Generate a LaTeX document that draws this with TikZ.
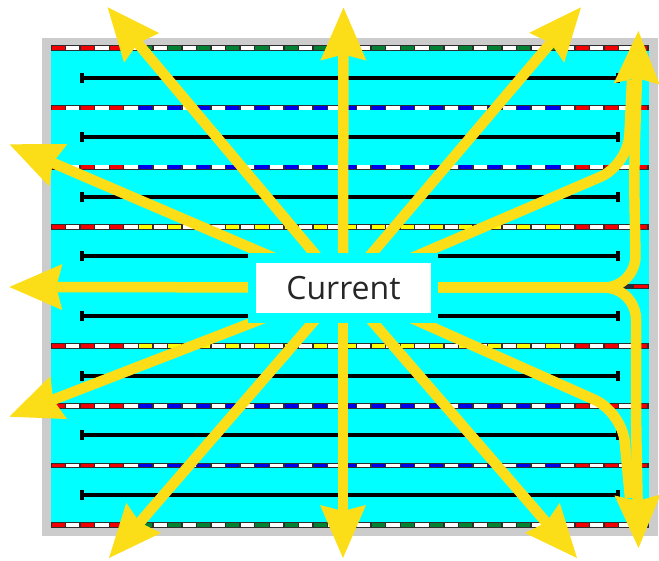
\documentclass[tikz,border=0pt]{standalone}
\usepackage{fontspec}
\setmainfont{Open Sans}
\usetikzlibrary{arrows.meta}
\definecolor{poolgray}{RGB}{204,204,204}
\definecolor{water}{RGB}{0,255,255}
\definecolor{flow}{RGB}{252,222,24}
\definecolor{ropered}{RGB}{240,0,0}
\definecolor{ropeblue}{RGB}{0,0,235}
\definecolor{ropegreen}{RGB}{0,130,50}
\definecolor{ropeyellow}{RGB}{255,255,0}
\definecolor{ropeedge}{RGB}{45,45,45}
\definecolor{txt}{RGB}{38,38,38}
\begin{document}
\begin{tikzpicture}[x=1pt,y=-1pt,
  flowline/.style={draw=flow,line width=10.5pt,line cap=butt,line join=round},
  flowhead/.style={-{Stealth[length=53pt,width=46pt,inset=6pt,line width=0pt,fill=flow]}},
  lanemark/.style={line width=4pt,draw=black},
  labelbox/.style={fill=white,minimum width=175pt,minimum height=50pt,inner sep=0pt,text=txt,font=\fontsize{32}{38}\selectfont}]
\useasboundingbox (0,0) rectangle (659,561);
% pool
\fill[poolgray] (42,38) rectangle (657.5,535.5);
\fill[water] (51,46) rectangle (648.5,528);
% lane ropes
\foreach \i/\mc in {0/ropegreen,1/ropeblue,2/ropeblue,3/ropeyellow,5/ropeyellow,6/ropeblue,7/ropeblue,8/ropegreen}{
  \pgfmathsetmacro{\ry}{48.2+59.6*\i}
  \fill[ropeedge] (51,\ry-2.7) rectangle (648.6,\ry+2.7);
  \foreach \k in {0,...,40}{
    \pgfmathsetmacro{\xa}{51+\k*14.55+0.7}
    \pgfmathsetmacro{\xb}{51+(\k+1)*14.55-0.7}
    \pgfmathtruncatemacro{\odd}{mod(\k,2)}
    \pgfmathtruncatemacro{\j}{div(\k,2)}
    \ifnum\odd=1 \def\sc{white}\else\ifnum\j<3 \def\sc{ropered}\else\ifnum\j>17 \def\sc{ropered}\else\edef\sc{\mc}\fi\fi\fi
    \fill[\sc] (\xa,\ry-1.9) rectangle (\xb,\ry+1.9);
  }
}
% middle rope stub
\fill[ropeedge] (600,283.9) rectangle (648.6,289.3);
\fill[ropered] (633.9,284.7) rectangle (647.9,288.5);
% lane markers
\foreach \i in {0,...,7}{
  \pgfmathsetmacro{\ly}{77.7+59.6*\i}
  \draw[lanemark] (82,\ly) -- (618,\ly);
  \fill (80,\ly-5) rectangle (84,\ly+5);
  \fill (616,\ly-5) rectangle (620,\ly+5);
}
% current arrows
\coordinate (c) at (343,287.5);
\coordinate (tN) at (343.5,7.5);
\coordinate (tS) at (343,558);
\coordinate (tW) at (9.3,287);
\coordinate (tNW) at (107.6,7.3);
\coordinate (tNE) at (581,7.3);
\coordinate (tWN) at (9.5,144.3);
\coordinate (tWS) at (9.3,416.7);
\coordinate (tSW) at (109,558);
\coordinate (tSE) at (577,558);
\coordinate (tRN) at (638.4,31);
\coordinate (tRS) at (638.5,548);
\coordinate (kRN) at (636,287.5);
\coordinate (kRS) at (636,287.5);
\coordinate (d1a) at (628,165);
\coordinate (d1b) at (632,80);
\coordinate (d2a) at (622,412);
\coordinate (d2b) at (630,498);
\foreach \t in {tN,tS,tW,tNW,tNE,tWN,tWS,tSW,tSE}{
  \draw[flowline,flowhead] (c) -- (\t);
}
\draw[flowline,flowhead,rounded corners=32pt] (c) -- (kRN) -- (634,170) -- (tRN);
\draw[flowline,flowhead,rounded corners=32pt] (c) -- (kRS) -- (636,420) -- (tRS);
\draw[flowline,rounded corners=30pt] (c) -- (d1a) -- (d1b);
\draw[flowline,rounded corners=30pt] (c) -- (d2a) -- (d2b);
% label
\fill[water] (248,253) rectangle (438,323.5);
\node[labelbox] (label) at (343.5,288.3) {Current};
\end{tikzpicture}
\end{document}
